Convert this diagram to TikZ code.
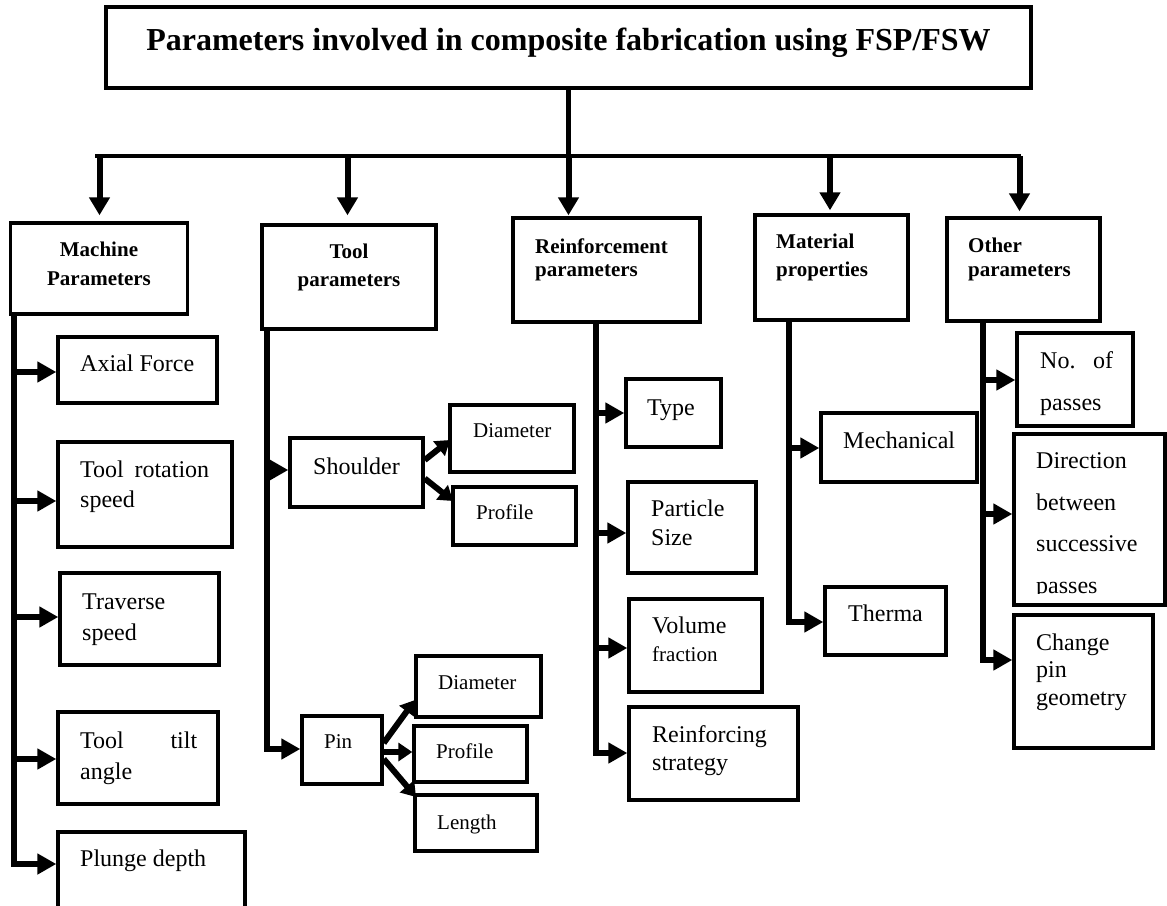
\documentclass[tikz,border=0pt]{standalone}
\usepackage{fontspec}
\setmainfont{Liberation Serif}
\usetikzlibrary{arrows.meta,fit,calc}
\tikzset{
  bx/.style={draw, line width=3.4pt, inner sep=0pt, rectangle},
  tx/.style={anchor=base west, inner sep=0pt, font=\fontsize{24}{28}\selectfont},
  txs/.style={anchor=base west, inner sep=0pt, font=\fontsize{21}{25}\selectfont},
  hd/.style={anchor=base, inner sep=0pt, font=\bfseries\fontsize{21}{25}\selectfont},
  hdl/.style={anchor=base west, inner sep=0pt, font=\bfseries\fontsize{21}{25}\selectfont},
  harr/.style={line width=6pt, -{Triangle[length=19pt,width=20pt]}},
  darr/.style={line width=6pt, -{Triangle[length=18pt,width=20pt]}},
  sarr/.style={line width=6pt, -{Triangle[length=14pt,width=18pt]}},
  bus/.style={line width=3.3pt},
}
\begin{document}
\begin{tikzpicture}[x=1pt,y=-1pt]
\useasboundingbox (0,0) rectangle (1167,905);
% ---------- title ----------
\node[bx, fit={(106,7) (1031,88)}] (title) {};
\node[anchor=base, inner sep=0pt, font=\bfseries\fontsize{32}{38}\selectfont] (titletxt) at (568.5,50) {Parameters involved in composite fabrication using FSP/FSW};
% ---------- top level boxes ----------
\node[bx, fit={(10.7,223) (187.5,314)}] (mach) {};
\node[hd] (machA) at (99,256) {Machine};
\node[hd] (machB) at (99,285) {Parameters};
\node[bx, fit={(262,225) (436,329)}] (tool) {};
\node[hd] (toolA) at (349,258) {Tool};
\node[hd] (toolB) at (349,286) {parameters};
\node[bx, fit={(513,218) (700,322)}] (reinf) {};
\node[hdl] (reinfA) at (535,253) {Reinforcement};
\node[hdl] (reinfB) at (535,276) {parameters};
\node[bx, fit={(755,215) (908,320)}] (mat) {};
\node[hdl] (matA) at (776,248) {Material};
\node[hdl] (matB) at (776,276) {properties};
\node[bx, fit={(947,218) (1100,321)}] (oth) {};
\node[hdl] (othA) at (968,252) {Other};
\node[hdl] (othB) at (968,276) {parameters};
% ---------- title connectors ----------
\coordinate (busL) at (95,156);
\coordinate (busR) at (1021,156);
\draw[line width=5pt] (title.south) -- (title.south |- busL);
\draw[bus] (busL) -- (busR);
\coordinate (d1) at (99.5,156);
\coordinate (d2) at (347.5,156);
\coordinate (d3) at (568.5,156);
\coordinate (d4) at (830,156);
\coordinate (d5) at (1019.5,156);
\draw[darr, shorten >=6pt] (d1) -- (d1 |- mach.north);
\draw[darr, shorten >=8pt] (d2) -- (d2 |- tool.north);
\draw[darr, shorten >=1pt] (d3) -- (d3 |- reinf.north);
\draw[darr, shorten >=3pt] (d4) -- (d4 |- mat.north);
\draw[darr, shorten >=5pt] (d5) -- (d5 |- oth.north);
% ---------- machine column ----------
\node[bx, fit={(58,337) (217,403)}] (axial) {};
\node[tx] (axialT) at (80,371) {Axial Force};
\node[bx, fit={(58,442) (232,547)}] (rot) {};
\node[tx] (rotA) at (80,477) {\makebox[129pt][s]{Tool rotation}};
\node[tx] (rotB) at (80,507) {speed};
\node[bx, fit={(60,573) (219,665)}] (trav) {};
\node[tx] (travA) at (82,609) {Traverse};
\node[tx] (travB) at (82,640) {speed};
\node[bx, fit={(58,712) (218,804)}] (tilt) {};
\node[tx] (tiltA) at (80,748) {\makebox[117pt][s]{Tool tilt}};
\node[tx] (tiltB) at (80,779) {angle};
\node[bx, fit={(58,832) (245,912)}] (plunge) {};
\node[tx] (plungeT) at (80,866) {Plunge depth};
\coordinate (m0) at (14,314);
\coordinate (m1) at (14,372);
\coordinate (m2) at (14,501);
\coordinate (m3) at (14,617);
\coordinate (m4) at (14,759);
\coordinate (m5) at (14,864);
\draw[harr] (m0) -- (m5) -- (m5 -| plunge.west);
\draw[harr] (m1) -- (m1 -| axial.west);
\draw[harr] (m2) -- (m2 -| rot.west);
\draw[harr] (m3) -- (m3 -| trav.west);
\draw[harr] (m4) -- (m4 -| tilt.west);
% ---------- tool column ----------
\node[bx, fit={(290,438) (423,507)}] (shoulder) {};
\node[tx] (shoulderT) at (313,474) {Shoulder};
\node[bx, fit={(450,405) (574,472)}] (sdia) {};
\node[txs] (sdiaT) at (473,437) {Diameter};
\node[bx, fit={(453,487) (576,545)}] (spro) {};
\node[txs] (sproT) at (476,519) {Profile};
\node[bx, fit={(302,716) (382,784)}] (pin) {};
\node[txs] (pinT) at (324,748) {Pin};
\node[bx, fit={(416,656) (541,717)}] (pdia) {};
\node[txs] (pdiaT) at (438,689) {Diameter};
\node[bx, fit={(414,726) (527,782)}] (ppro) {};
\node[txs] (pproT) at (436,758) {Profile};
\node[bx, fit={(415,795) (537,851)}] (plen) {};
\node[txs] (plenT) at (437,829) {Length};
\coordinate (t0) at (267,329);
\coordinate (t1) at (267,470);
\coordinate (t2) at (267,749);
\draw[harr] (t0) -- (t2) -- (t2 -| pin.west);
\draw[harr] (t1) -- (t1 -| shoulder.west);
\coordinate (ss1) at ($(shoulder.east)+(0,-12.5)$);
\coordinate (ss2) at ($(shoulder.east)+(0,6)$);
\coordinate (sa1) at (450,440);
\coordinate (sa2) at (453,501);
\draw[sarr] (ss1) -- (sa1);
\draw[sarr] (ss2) -- (sa2);
\coordinate (ps1) at ($(pin.east)+(0,-7)$);
\coordinate (ps2) at ($(pin.east)+(0,2)$);
\coordinate (ps3) at ($(pin.east)+(0,9)$);
\coordinate (pa1) at (415,700);
\coordinate (pa3) at (416,797);
\draw[sarr] (ps1) -- (pa1);
\draw[sarr] (ps2) -- (ps2 -| ppro.west);
\draw[sarr] (ps3) -- (pa3);
% ---------- reinforcement column ----------
\node[bx, fit={(626,379) (721,447)}] (type) {};
\node[tx] (typeT) at (647,415) {Type};
\node[bx, fit={(628,482) (756,573)}] (part) {};
\node[tx] (partA) at (651,516) {Particle};
\node[tx] (partB) at (651,545) {Size};
\node[bx, fit={(629,599) (762,692)}] (vol) {};
\node[tx] (volA) at (652,633) {Volume};
\node[txs] (volB) at (652,661) {fraction};
\node[bx, fit={(629,707) (798,800)}] (rstr) {};
\node[tx] (rstrA) at (652,742) {Reinforcing};
\node[tx] (rstrB) at (652,770) {strategy};
\coordinate (r0) at (596,322);
\coordinate (r1) at (596,413);
\coordinate (r2) at (596,533);
\coordinate (r3) at (596,648);
\coordinate (r4) at (596,753);
\draw[harr] (r0) -- (r4) -- (r4 -| rstr.west);
\draw[harr] (r1) -- (r1 -| type.west);
\draw[harr] (r2) -- (r2 -| part.west);
\draw[harr] (r3) -- (r3 -| vol.west);
% ---------- material column ----------
\node[bx, fit={(821,413) (977,482)}] (mech) {};
\node[tx] (mechT) at (843,448) {Mechanical};
\node[bx, fit={(825,587) (946,655)}] (therm) {};
\node[tx] (thermT) at (848,621) {Therma};
\coordinate (a0) at (789,320);
\coordinate (a1) at (789,448);
\coordinate (a2) at (789,622);
\draw[harr] (a0) -- (a2) -- (a2 -| therm.west);
\draw[harr] (a1) -- (a1 -| mech.west);
% ---------- other column ----------
\node[bx, fit={(1017,333) (1133,426)}] (nop) {};
\node[tx] (nopA) at (1040,368) {\makebox[73pt][s]{No. of}};
\node[tx] (nopB) at (1040,410) {passes};
\node[bx, fit={(1014,434) (1165,605)}] (dir) {};
\node[tx] (dirA) at (1036,468) {Direction};
\node[tx] (dirB) at (1036,510) {between};
\node[tx] (dirC) at (1036,551) {successive};
\begin{scope}
\clip (1016,560) rectangle (1160,593);
\node[tx] (dirD) at (1036,593) {passes};
\end{scope}
\node[bx, fit={(1014,615) (1153,748)}] (chg) {};
\node[tx] (chgA) at (1036,650) {Change};
\node[tx] (chgB) at (1036,677.5) {pin};
\node[tx] (chgC) at (1036,705) {geometry};
\coordinate (o0) at (983,321);
\coordinate (o1) at (983,380);
\coordinate (o2) at (983,514);
\coordinate (o3) at (983,660);
\draw[harr] (o0) -- (o3) -- (o3 -| chg.west);
\draw[harr] (o1) -- (o1 -| nop.west);
\draw[harr] (o2) -- (o2 -| dir.west);
\end{tikzpicture}
\end{document}
